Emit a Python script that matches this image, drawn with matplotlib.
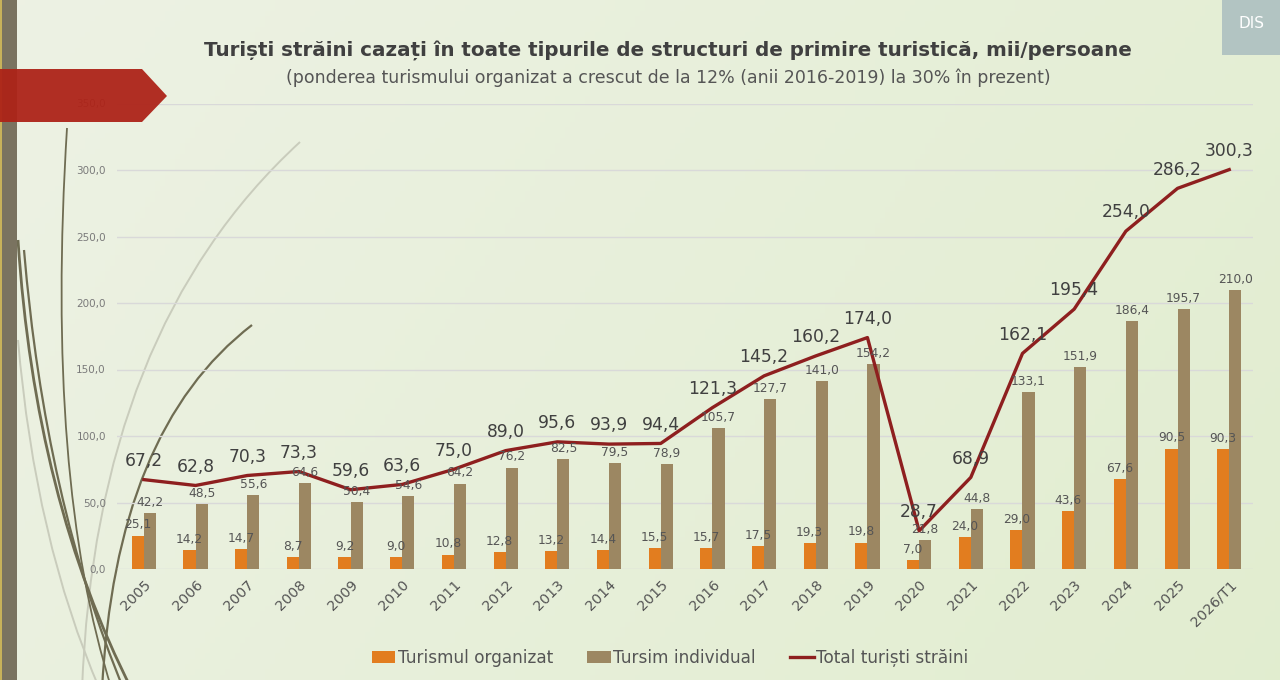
import matplotlib
matplotlib.use("Agg")
import matplotlib.pyplot as plt
import numpy as np
from matplotlib.patches import Polygon, Rectangle, PathPatch
from matplotlib.path import Path
from matplotlib.lines import Line2D
from matplotlib.patches import Patch

years = ["2005", "2006", "2007", "2008", "2009", "2010", "2011", "2012", "2013", "2014",
         "2015", "2016", "2017", "2018", "2019", "2020", "2021", "2022", "2023", "2024",
         "2025", "2026/T1"]
organizat = [25.1, 14.2, 14.7, 8.7, 9.2, 9.0, 10.8, 12.8, 13.2, 14.4, 15.5, 15.7, 17.5,
             19.3, 19.8, 7.0, 24.0, 29.0, 43.6, 67.6, 90.5, 90.3]
individual = [42.2, 48.5, 55.6, 64.6, 50.4, 54.6, 64.2, 76.2, 82.5, 79.5, 78.9, 105.7,
              127.7, 141.0, 154.2, 21.8, 44.8, 133.1, 151.9, 186.4, 195.7, 210.0]
total = [67.2, 62.8, 70.3, 73.3, 59.6, 63.6, 75.0, 89.0, 95.6, 93.9, 94.4, 121.3, 145.2,
         160.2, 174.0, 28.7, 68.9, 162.1, 195.4, 254.0, 286.2, 300.3]
yticks = [0, 50, 100, 150, 200, 250, 300, 350]

title = "Turiști străini cazați în toate tipurile de structuri de primire turistică, mii/persoane"
subtitle = "(ponderea turismului organizat a crescut de la 12% (anii 2016-2019) la 30% în prezent)"
legend_labels = ["Turismul organizat", "Tursim individual", "Total turiști străini"]

C_ORG = "#E27D1F"
C_IND = "#9C8762"
C_TOT = "#8E1F1F"
TXT = "#404040"

W, H = 1280, 680
fig = plt.figure(figsize=(12.8, 6.8), dpi=100)
plt.rcParams['font.family'] = ['DejaVu Sans']

def P(x, y):
    return (x / W, 1 - y / H)

# background gradient
bg = fig.add_axes([0, 0, 1, 1], zorder=-10)
gx = np.linspace(0, 1, 256)
gy = np.linspace(0, 1, 128)
GX, GY = np.meshgrid(gx, gy)
c1 = np.array([0.930, 0.948, 0.895])
c2 = np.array([0.885, 0.930, 0.815])
t = np.clip(0.75 * GX + 0.25 * GY, 0, 1)[..., None]
img = c1 * (1 - t) + c2 * t
bg.imshow(img, aspect='auto', extent=[0, 1, 0, 1], origin='upper')
bg.set_xlim(0, 1); bg.set_ylim(0, 1)
bg.axis('off')

# decorative curves (figure pixel coords)
def curve(pts, color, lw, z=-5):
    verts = [P(*p) for p in pts]
    codes = [Path.MOVETO] + [Path.CURVE3] * (len(pts) - 1)
    pp = PathPatch(Path(verts, codes), facecolor='none', edgecolor=color, lw=lw,
                   transform=fig.transFigure, zorder=z)
    fig.add_artist(pp)

curve([(102, 690), (115, 430), (252, 325)], "#6f6c52", 1.6)
curve([(82, 690), (95, 330), (300, 142)], "#c9ccbc", 1.4)
curve([(67, 128), (45, 480), (112, 690)], "#6f6c52", 1.3)
curve([(18, 240), (35, 500), (132, 690)], "#6f6c52", 2.0)
curve([(24, 250), (45, 500), (124, 690)], "#6f6c52", 1.6)
curve([(18, 340), (35, 540), (100, 690)], "#c9ccbc", 1.4)

# left strip
fig.add_artist(Rectangle(P(0, 680), 17 / W, 1, transform=fig.transFigure,
                         facecolor="#7a7360", edgecolor='none', zorder=-4))
fig.add_artist(Rectangle(P(0, 680), 2 / W, 1, transform=fig.transFigure,
                         facecolor="#c8b25a", edgecolor='none', zorder=-3))

# main axes
ax = fig.add_axes([117 / W, 1 - 569 / H, (1253 - 117) / W, (569 - 103.5) / H])
ax.set_facecolor('none')
x = np.arange(len(years))
bw = 0.235
ax.bar(x - bw / 2, organizat, bw, color=C_ORG, zorder=2)
ax.bar(x + bw / 2, individual, bw, color=C_IND, zorder=2)
ax.plot(x, total, color=C_TOT, lw=2.4, zorder=3, solid_joinstyle='round')

for i in range(len(years)):
    ax.annotate(f"{organizat[i]:.1f}".replace('.', ','), (x[i] - bw / 2, organizat[i]),
                xytext=(0, 3), textcoords='offset points', ha='center', va='bottom',
                fontsize=8.8, color="#555555", zorder=4)
    ax.annotate(f"{individual[i]:.1f}".replace('.', ','), (x[i] + bw / 2, individual[i]),
                xytext=(0, 3), textcoords='offset points', ha='center', va='bottom',
                fontsize=8.8, color="#555555", zorder=4)
    ax.annotate(f"{total[i]:.1f}".replace('.', ','), (x[i], total[i]),
                xytext=(0, 7), textcoords='offset points', ha='center', va='bottom',
                fontsize=12.3, color=TXT, zorder=5)

ax.set_xlim(-0.52, 21.46)
ax.set_ylim(0, 350)
ax.set_yticks(yticks)
ax.set_yticklabels([f"{v:.1f}".replace('.', ',') for v in yticks], fontsize=7.5, color="#7a7a7a")
ax.set_xticks(x)
ax.set_xticklabels(years, rotation=45, ha='right', rotation_mode='anchor', fontsize=10.3,
                   color="#555555")
ax.tick_params(axis='both', length=0)
ax.tick_params(axis='y', pad=8)
ax.tick_params(axis='x', pad=6)
ax.grid(axis='y', color="#d9d9d9", lw=1, zorder=0)
ax.set_axisbelow(True)
for s in ax.spines.values():
    s.set_visible(False)

# red banner on top (semi-transparent)
banner = Polygon([P(0, 69), P(142, 69), P(167, 96), P(142, 122), P(0, 122)], closed=True,
                 transform=fig.transFigure, facecolor="#ad2217", edgecolor='none',
                 alpha=0.94, zorder=10)
fig.add_artist(banner)

# logo
fig.add_artist(Rectangle(P(1222, 55), 58 / W, 55 / H, transform=fig.transFigure,
                         facecolor="#b2c4c2", edgecolor='none', zorder=6))
fig.text(1251 / W, 1 - 24 / H, "DIS", ha='center', va='center', fontsize=11,
         color='white', zorder=7)

# titles
fig.text(668 / W, 1 - 50 / H, title, ha='center', va='center', fontsize=14.3,
         fontweight='bold', color=TXT)
fig.text(668 / W, 1 - 78 / H, subtitle, ha='center', va='center', fontsize=12.5,
         color="#555555")

# legend
handles = [Patch(facecolor=C_ORG), Patch(facecolor=C_IND), Line2D([0], [0], color=C_TOT, lw=2.4)]
fig.legend(handles, legend_labels, loc='center', bbox_to_anchor=(670 / W, 1 - 658 / H),
           ncol=3, frameon=False, fontsize=12.2, handlelength=1.4, handleheight=0.7,
           handletextpad=0.15, columnspacing=2.0, labelcolor="#555555")

fig.savefig("out.png", dpi=100)
